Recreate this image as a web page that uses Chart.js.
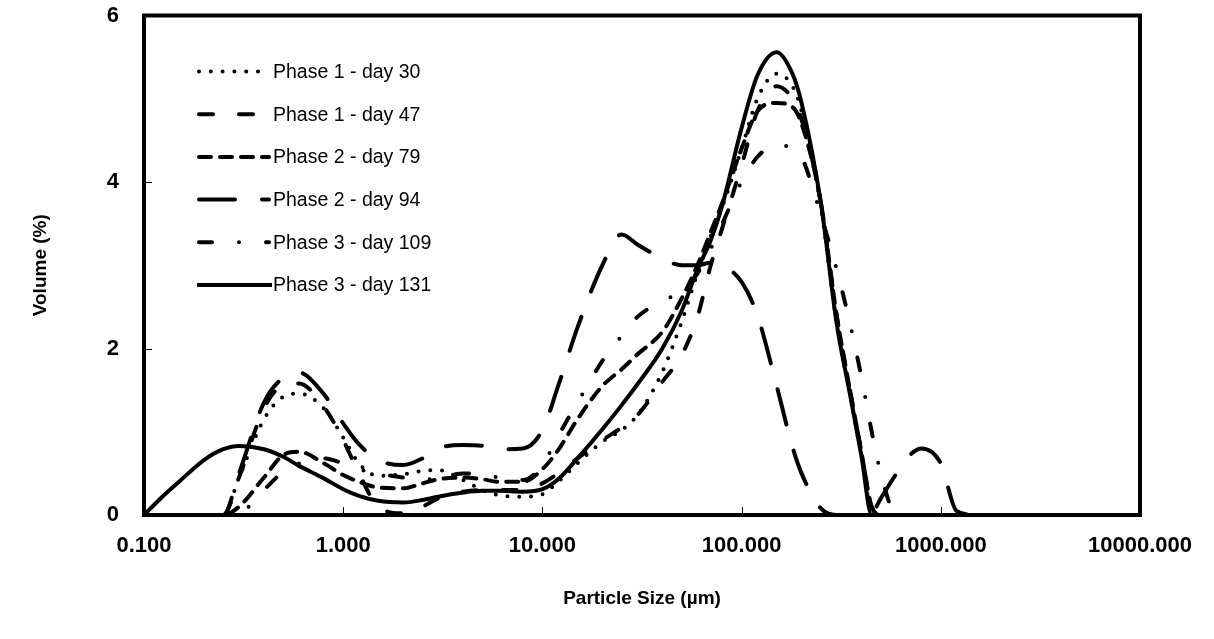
<!DOCTYPE html>
<html>
<head>
<meta charset="utf-8">
<script src="https://cdn.jsdelivr.net/npm/chart.js@4.4.1/dist/chart.umd.min.js"></script>
<style>
  html, body { margin: 0; padding: 0; background: #ffffff; }
  #wrap { width: 1214px; height: 639px; }
</style>
</head>
<body>
<div id="wrap"><canvas id="psd" width="1214" height="639"></canvas></div>
<script>
// Particle size classes (µm) shared by every sample
const sizes = [0.1, 0.12, 0.15, 0.2, 0.25, 0.3, 0.4, 0.5, 0.6, 0.8,
               1.0, 1.2, 1.5, 2, 2.5, 3, 4, 5, 6, 8,
               10, 12, 15, 20, 25, 30, 40, 50, 60, 70,
               80, 100, 120, 150, 180, 200, 250, 300, 350, 400,
               450, 500, 600, 700, 800, 1000, 1200, 1500, 2000];

const seriesNames = ['Phase 1 - day 30', 'Phase 1 - day 47', 'Phase 2 - day 79',
                     'Phase 2 - day 94', 'Phase 3 - day 109', 'Phase 3 - day 131'];

// Volume (%) per size class
const day30 = [0, 0, 0, 0, 0, 0.45, 1.15, 1.42, 1.46, 1.28,
               0.93, 0.62, 0.47, 0.49, 0.53, 0.54, 0.42, 0.30, 0.24, 0.22,
               0.25, 0.40, 0.62, 0.88, 1.02, 1.20, 1.72, 2.32, 2.90, 3.35,
               3.70, 4.40, 5.00, 5.30, 5.15, 4.85, 3.70, 2.30, 1.45, 0.70,
               0.05, 0, 0, 0, 0, 0, 0, 0, 0];
const day47 = [0, 0, 0, 0, 0, 0.45, 1.28, 1.56, 1.58, 1.30,
               0.90, 0.50, 0.10, 0.02, 0.10, 0.20, 0.28, 0.30, 0.30, 0.30,
               0.38, 0.50, 0.68, 0.90, 1.05, 1.20, 1.60, 1.92, 2.38, 3.00,
               3.45, 4.20, 4.85, 5.15, 5.00, 4.75, 3.75, 2.40, 1.50, 0.75,
               0.10, 0, 0, 0, 0, 0, 0, 0, 0];
const day79 = [0, 0, 0, 0, 0, 0.10, 0.45, 0.72, 0.76, 0.62,
               0.48, 0.40, 0.33, 0.32, 0.38, 0.43, 0.45, 0.43, 0.40, 0.40,
               0.55, 0.78, 1.15, 1.55, 1.75, 1.93, 2.20, 2.60, 3.00, 3.40,
               3.75, 4.40, 4.85, 4.95, 4.90, 4.70, 3.75, 2.40, 1.50, 0.75,
               0.10, 0, 0, 0, 0, 0, 0, 0, 0];
const day94 = [0, 0, 0, 0, 0, 0.50, 1.35, 1.65, 1.71, 1.45,
               1.10, 0.85, 0.66, 0.60, 0.68, 0.80, 0.84, 0.83, 0.79, 0.80,
               1.02, 1.55, 2.25, 3.00, 3.37, 3.25, 3.08, 3.00, 3.00, 3.03,
               3.00, 2.80, 2.40, 1.55, 0.82, 0.50, 0.08, 0, 0, 0,
               0.02, 0.20, 0.50, 0.72, 0.80, 0.62, 0.05, 0, 0];
const day109 = [0, 0, 0, 0, 0, 0.02, 0.30, 0.52, 0.62, 0.68,
                0.62, 0.55, 0.50, 0.45, 0.42, 0.45, 0.50, 0.50, 0.45, 0.42,
                0.60, 0.95, 1.35, 1.85, 2.15, 2.38, 2.57, 2.69, 2.90, 3.20,
                3.50, 4.00, 4.30, 4.45, 4.40, 4.30, 3.60, 2.95, 2.30, 1.65,
                1.00, 0.50, 0, 0, 0, 0, 0, 0, 0];
const day131 = [0, 0.19, 0.40, 0.66, 0.79, 0.83, 0.79, 0.70, 0.59, 0.44,
                0.31, 0.23, 0.17, 0.15, 0.18, 0.22, 0.27, 0.29, 0.29, 0.28,
                0.31, 0.43, 0.68, 1.03, 1.32, 1.57, 2.00, 2.45, 2.95, 3.30,
                3.72, 4.65, 5.28, 5.56, 5.30, 4.95, 3.75, 2.30, 1.45, 0.70,
                0, 0, 0, 0, 0, 0, 0, 0, 0];

const xTicks = [0.1, 1, 10, 100, 1000, 10000];
const xTickLabels = ['0.100', '1.000', '10.000', '100.000', '1000.000', '10000.000'];
const yTicks = [0, 2, 4, 6];

// Line patterns, one per sample (dash lengths before round caps are added)
const dashes = [[0, 11.8], [14, 26], [12, 9], [36, 27], [13, 27, 0, 27], []];
const allValues = [day30, day47, day79, day94, day109, day131];

const FONT = '"Liberation Sans", Arial, Helvetica, sans-serif';

const datasets = allValues.map((vals, k) => ({
  label: seriesNames[k],
  data: sizes.map((s, i) => ({ x: s, y: vals[i] })),
  borderColor: '#000000',
  backgroundColor: '#000000',
  borderWidth: 4,
  borderDash: dashes[k],
  borderCapStyle: dashes[k].length ? 'round' : 'butt',
  borderJoinStyle: 'round',
  pointRadius: 0,
  pointHoverRadius: 0,
  fill: false,
  cubicInterpolationMode: 'monotone'
}));

// Frame, inward tick marks and the in-plot legend
const decorations = {
  id: 'decorations',
  afterDatasetsDraw(chart) {
    const { ctx, chartArea: a, scales } = chart;
    ctx.save();
    ctx.strokeStyle = '#000000';
    ctx.lineWidth = 1;
    ctx.beginPath();
    yTicks.forEach(v => {
      const y = Math.round(scales.y.getPixelForValue(v)) + 0.5;
      ctx.moveTo(a.left, y); ctx.lineTo(a.left + 8, y);
    });
    xTicks.forEach(v => {
      const x = Math.round(scales.x.getPixelForValue(v)) + 0.5;
      ctx.moveTo(x, a.bottom); ctx.lineTo(x, a.bottom - 8);
    });
    ctx.stroke();

    ctx.lineWidth = 4;
    ctx.strokeRect(a.left, a.top, a.right - a.left, a.bottom - a.top);

    // legend
    const x0 = 199, x1 = 269, textX = 273, rowY = 71.5, rowStep = 42.7;
    chart.data.datasets.forEach((ds, k) => {
      const y = rowY + k * rowStep;
      ctx.save();
      ctx.lineWidth = ds.borderWidth;
      ctx.lineCap = ds.borderCapStyle;
      ctx.setLineDash(ds.borderDash);
      ctx.beginPath();
      ctx.moveTo(ds.borderDash.length ? x0 : x0 - 2, y);
      ctx.lineTo(ds.borderDash.length ? x1 : x1 + 3, y);
      ctx.stroke();
      ctx.restore();
      ctx.fillStyle = '#000000';
      ctx.font = '19.5px ' + FONT;
      ctx.textAlign = 'left';
      ctx.textBaseline = 'middle';
      ctx.fillText(ds.label, textX, y + 1);
    });
    ctx.restore();
  }
};

new Chart(document.getElementById('psd'), {
  type: 'line',
  data: { datasets },
  plugins: [decorations],
  options: {
    responsive: false,
    animation: false,
    devicePixelRatio: 1,
    layout: { padding: { left: 0, right: 74, top: 15.5, bottom: 0 } },
    plugins: { legend: { display: false }, tooltip: { enabled: false } },
    scales: {
      x: {
        type: 'logarithmic',
        min: 0.1,
        max: 10000,
        afterFit: s => { s.height = 124; },
        afterBuildTicks: s => { s.ticks = xTicks.map(v => ({ value: v })); },
        grid: { display: false, drawTicks: false },
        border: { display: false },
        ticks: {
          autoSkip: false,
          maxRotation: 0,
          padding: 18,
          color: '#000000',
          font: { family: FONT, size: 22, weight: 'bold' },
          callback: v => xTickLabels[xTicks.indexOf(v)] ?? ''
        },
        title: {
          display: true,
          text: 'Particle Size (µm)',
          color: '#000000',
          font: { family: FONT, size: 19, weight: 'bold' },
          padding: { top: 0, bottom: 29 }
        }
      },
      y: {
        min: 0,
        max: 6,
        afterFit: s => { s.width = 144; s.paddingTop = 8; s.paddingBottom = 8; },
        afterBuildTicks: s => { s.ticks = yTicks.map(v => ({ value: v })); },
        grid: { display: false, drawTicks: false },
        border: { display: false },
        ticks: {
          padding: 25,
          color: '#000000',
          font: { family: FONT, size: 22, weight: 'bold' }
        },
        title: {
          display: true,
          text: 'Volume (%)',
          color: '#000000',
          font: { family: FONT, size: 19, weight: 'bold' },
          padding: { top: 29, bottom: 0 }
        }
      }
    }
  }
});
</script>
</body>
</html>
